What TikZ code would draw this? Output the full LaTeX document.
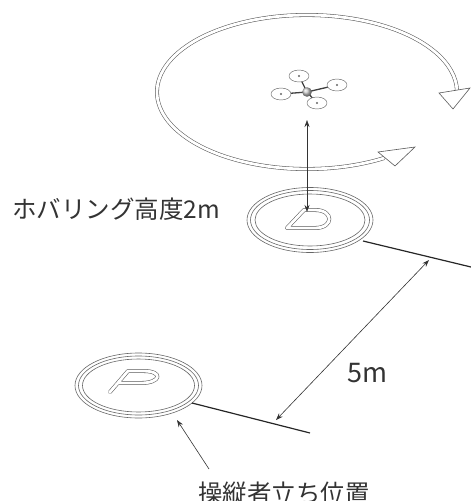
\documentclass[tikz,border=0pt]{standalone}
\usepackage{fontspec}
\newfontfamily\jp{Noto Sans CJK JP}
\usetikzlibrary{arrows.meta,calc}
\tikzset{
  band/.style={draw=black!65, line width=0.55pt, double=white, double distance=2.8pt},
  bandhead/.style={draw=black!65, line width=0.6pt, fill=white, line join=miter},
  ring/.style={draw=black!60, line width=0.6pt},
  outl/.style={draw=black!65, line width=0.55pt, double=white, double distance=2.8pt, line cap=round, line join=round},
  rotor/.style={draw=black!60, line width=0.45pt, fill=white},
  arm/.style={draw=black!75, line width=1.3pt},
  edge line/.style={draw=black!85, line width=1.2pt},
  dim/.style={draw=black!80, line width=0.6pt, {Stealth[length=7pt,width=5pt]}-{Stealth[length=7pt,width=5pt]}},
  pointer/.style={draw=black!80, line width=0.6pt, -{Stealth[length=7pt,width=5pt]}},
  txt/.style={text=black!80, inner sep=0pt}
}
\begin{document}
\begin{tikzpicture}[x=1pt,y=-1pt]
\useasboundingbox (0,0) rectangle (471,501);

% key points
\coordinate (drone) at (307,92);
\coordinate (padA) at (310,220);
\coordinate (padB) at (138.5,385.5);
\coordinate (hovtop) at (307,120);
\coordinate (hovbot) at (307,212);
\coordinate (l1a) at (363,241);
\coordinate (l1b) at (471,267);
\coordinate (l2a) at (192,403);
\coordinate (l2b) at (310,433);
\coordinate (d1) at (276,420);
\coordinate (d2) at (429,260);
\coordinate (ptail) at (209,469);
\coordinate (ptip) at (177,420);
\coordinate (ra) at (299,76);
\coordinate (rb) at (337,85);
\coordinate (rc) at (317,103);
\coordinate (rd) at (281,94);

% rotation band around the hovering drone
\draw[band] (drone) ++(59:150 and 77) arc[start angle=59, end angle=359, x radius=150, y radius=77];
\draw[bandhead] (439,93) -- (453,109) -- (470,88) -- cycle;
\draw[bandhead] (378,152) -- (415,147) -- (395,166) -- cycle;

% drone: arms, rotors, body
\foreach \n in {a,b,c,d}{
  \draw[arm] (drone) -- (r\n);
}
\foreach \n in {a,b,c,d}{
  \draw[rotor] (r\n) ellipse[x radius=10, y radius=6];
  \fill[black!60] (r\n) circle (1.1);
}
\shade[ball color=gray!45] (drone) circle (4.8);

% take-off pad with D mark
\foreach \rx/\ry in {63/32.5, 59.5/29.5, 55/26}{
  \draw[ring] (padA) ellipse[x radius=\rx, y radius=\ry];
}
\draw[outl] (287,228) -- (304,210) -- (315,210)
  .. controls (334,210) and (334,228) .. (315,228) -- cycle;

% operator pad with P mark
\foreach \rx/\ry in {63.5/32.5, 60/29.5, 56/26.5}{
  \draw[ring] (padB) ellipse[x radius=\rx, y radius=\ry];
}
\draw[outl] (110,392) -- (128,371) -- (143,371)
  .. controls (164,371) and (161,383) .. (141,383) -- (118,383);

% hovering height
\draw[dim] (hovtop) -- (hovbot);

% reference lines and 5 m distance
\draw[edge line] (l1a) -- (l1b);
\draw[edge line] (l2a) -- (l2b);
\draw[dim] (d1) -- (d2);

% operator position pointer
\draw[pointer] (ptail) -- (ptip);

% labels
\node[txt, font=\jp\fontsize{24.5}{28}\selectfont, anchor=base west] (hov) at (12,218) {ホバリング高度2m};
\node[txt, font=\jp\fontsize{27}{32}\selectfont, anchor=base west] (dist) at (347,382) {5m};
\node[txt, font=\jp\fontsize{24.5}{29}\selectfont, anchor=base west] (op) at (198,502) {操縦者立ち位置};
\end{tikzpicture}
\end{document}
